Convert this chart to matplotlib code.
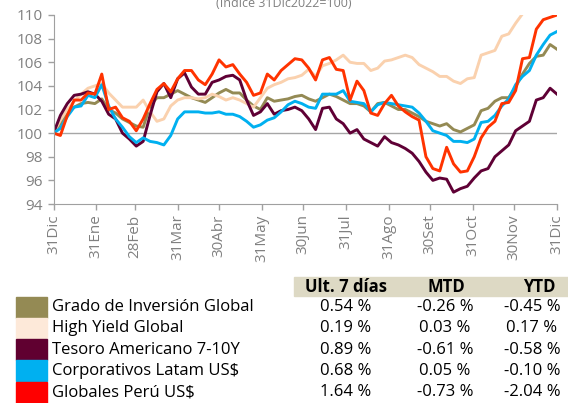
import numpy as np
import matplotlib
matplotlib.use("Agg")
import matplotlib.pyplot as plt
from matplotlib.patches import Rectangle

plt.rcParams['font.family'] = ['Open Sans', 'DejaVu Sans']

# dias desde 31Dic2022, cada 5 dias
days = np.arange(0, 366, 5)

tick_days = [0, 31, 59, 90, 120, 151, 181, 212, 243, 273, 304, 334, 365]
tick_labels = ["31Dic", "31Ene", "28Feb", "31Mar", "30Abr", "31May", "30Jun",
               "31Jul", "31Ago", "30Set", "31Oct", "30Nov", "31Dic"]

grado = [100, 100.8, 101.8, 102.2, 102.5, 102.6, 102.5, 102.9, 102.0, 101.7,
         101.2, 100.9, 100.6, 100.5, 102.3, 103, 103, 103.3, 103.6, 103.3,
         103, 102.8, 102.6, 103, 103.4, 103.7, 103.4, 103.4, 102.8, 102.3,
         102, 103, 102.7, 102.8, 102.9, 103.1, 103.2, 102.9, 102.7, 103,
         103.3, 103.1, 102.8, 102.5, 102.5, 102.3, 101.8, 102.5, 102.6, 102.3,
         102, 102, 101.7, 101.4, 101, 100.8, 100.6, 100.8, 100.3, 100.1,
         100.4, 100.7, 101.9, 102.1, 102.7, 103, 103, 103.9, 105, 105.9,
         106.5, 106.6, 107.5, 107.1]

high_yield = [100, 101.1, 102, 102.7, 103.3, 103.8, 104, 104.2, 103.4, 102.8,
              102.2, 102.2, 102.2, 102.8, 101.8, 101, 101.2, 102.3, 102.8, 103,
              103, 102.9, 103, 103.3, 103.1, 102.8, 103, 102.8, 102.5, 102.2,
              103, 103.8, 104.1, 104.3, 104.6, 104.7, 104.9, 105.4, 104.8, 105.7,
              105.9, 106.2, 106.6, 106, 105.9, 105.9, 105.3, 105.5, 106.1, 106.2,
              106.4, 106.6, 106.4, 105.8, 105.5, 105.2, 104.8, 104.8, 104.4, 104.2,
              104.6, 104.7, 106.6, 106.8, 107, 108.2, 108.4, 109.3, 110.1, 110.8,
              111.3, 111.8, 112.2, 112.5]

tesoro = [100, 101.5, 102.5, 103.2, 103.3, 103.5, 103.3, 102.7, 101.6, 101.2,
          100, 99.5, 98.9, 99.3, 101.5, 103.5, 104.2, 103, 104.6, 105.1,
          103.9, 103.3, 103.3, 104.3, 104.5, 104.8, 104.9, 104.5, 102.8, 101.5,
          101.8, 102.5, 101.6, 101.9, 102, 102.2, 101.9, 101.2, 100.3, 102.1,
          102.2, 101.2, 100.8, 100, 100.3, 99.5, 99.2, 98.9, 99.7, 99.2,
          99, 98.7, 98.3, 97.6, 96.7, 96, 96.2, 96.1, 95.0, 95.3,
          95.5, 96.2, 96.8, 97, 98, 98.5, 99, 100.2, 100.6, 101,
          102.8, 103, 103.8, 103.3]

corp_latam = [100, 100.4, 101.4, 102.2, 102.3, 103.2, 103, 104.1, 102.3, 101.2,
              100.5, 99.7, 99.2, 99.6, 99.3, 99.2, 99.0, 99.8, 101.2, 101.8,
              101.8, 101.8, 101.7, 101.7, 101.8, 101.6, 101.6, 101.4, 101, 100.5,
              100.7, 101.1, 101.3, 101.8, 102.4, 102.7, 102.5, 102.2, 102.1, 103.3,
              103.3, 103.3, 103.6, 102.7, 102.6, 102.5, 101.8, 102.4, 102.6, 102.5,
              102.4, 102.3, 102.2, 101.7, 101, 100.2, 100, 99.8, 99.3, 99.3,
              99.2, 99.5, 100.9, 101, 101.5, 102.3, 102.9, 104.1, 104.8, 105.3,
              106.6, 107.5, 108.3, 108.6]

peru = [100, 99.8, 101.5, 102.8, 102.8, 103.4, 103.3, 105.0, 102, 102.2,
        101.3, 101, 100.2, 101.2, 102.5, 103.7, 104.2, 103.5, 104.6, 105.3,
        105.3, 104.5, 104.1, 105, 106.2, 105.6, 105.8, 105, 104.3, 103.2,
        103.4, 105, 104.5, 105.3, 105.8, 106.3, 106.2, 105.5, 104.5, 106.2,
        106.4, 105.4, 105.3, 102.8, 104.4, 103.6, 101.7, 101.5, 102.5, 103.2,
        102.3, 101.8, 101.4, 101.1, 98, 97, 96.8, 98.8, 97.4, 96.7,
        96.8, 98, 99.6, 100.5, 101, 102.5, 102.6, 103.6, 106.3, 106.4,
        108.8, 109.6, 109.8, 110]

names = ["Grado de Inversión Global", "High Yield Global", "Tesoro Americano 7-10Y",
         "Corporativos Latam US$", "Globales Perú US$"]
series = [grado, high_yield, tesoro, corp_latam, peru]
line_colors = ["#948A54", "#FAD1AE", "#5F0035", "#00B0F0", "#FF3300"]
box_colors = ["#948A54", "#FDE9D9", "#600030", "#00B0F0", "#FF0000"]

ult7 = ["0.54 %", "0.19 %", "0.89 %", "0.68 %", "1.64 %"]
mtd = ["-0.26 %", "0.03 %", "-0.61 %", "0.05 %", "-0.73 %"]
ytd = ["-0.45 %", "0.17 %", "-0.58 %", "-0.10 %", "-2.04 %"]

W, H = 568, 403
fig = plt.figure(figsize=(W / 100, H / 100), dpi=100)
ax = fig.add_axes([53.5 / W, 1 - 204 / H, (557 - 53.5) / W, (204 - 15) / H])

ax.axhline(100, color="#A6A6A6", lw=1, zorder=1)
for vals, c in zip(series, line_colors):
    ax.plot(days, vals, color=c, lw=2.1, zorder=2)

ax.set_xlim(0, 365)
ax.set_ylim(94, 110)
ax.set_yticks(np.arange(94, 111, 2))
ax.set_xticks(tick_days)
ax.set_xticklabels(tick_labels, rotation=90)
gray = "#808080"
ax.tick_params(axis="both", colors="#A0A0A0", labelcolor=gray, labelsize=11,
               direction="out", length=4, width=1)
ax.tick_params(axis="y", pad=4)
for s in ["top", "right"]:
    ax.spines[s].set_visible(False)
for s in ["left", "bottom"]:
    ax.spines[s].set_color("#A0A0A0")

fig.text(284 / W, 1 - 7 / H, "(Indice 31Dic2022=100)", ha="center", va="baseline",
         fontsize=9, color=gray)

# tabla inferior
fig.patches.append(Rectangle((294 / W, 1 - 296 / H), 1 - 294 / W, 19.5 / H,
                             transform=fig.transFigure, color="#DDD9C4", zorder=0))
hy = 1 - 286.5 / H
fs = 12
fig.text(346 / W, hy, "Ult. 7 días", ha="center", va="center", fontsize=fs, fontweight="bold")
fig.text(446 / W, hy, "MTD", ha="center", va="center", fontsize=fs, fontweight="bold")
fig.text(539 / W, hy, "YTD", ha="center", va="center", fontsize=fs, fontweight="bold")

box_h = 21.2
for i, name in enumerate(names):
    top = 296.7 + i * box_h
    fig.patches.append(Rectangle((16 / W, 1 - (top + box_h) / H), 30.7 / W, box_h / H,
                                 transform=fig.transFigure, color=box_colors[i]))
    yc = 1 - (top + box_h / 2) / H
    fig.text(52 / W, yc, name, ha="left", va="center", fontsize=fs)
    fig.text(346 / W, yc, ult7[i], ha="center", va="center", fontsize=fs)
    fig.text(445 / W, yc, mtd[i], ha="center", va="center", fontsize=fs)
    fig.text(532 / W, yc, ytd[i], ha="center", va="center", fontsize=fs)

fig.savefig("out.png", dpi=100)
